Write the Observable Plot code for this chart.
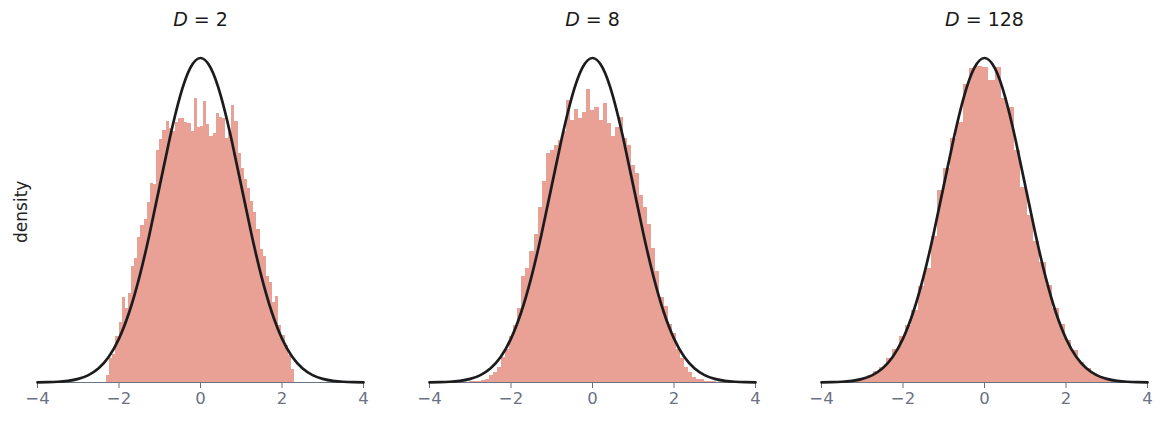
<!DOCTYPE html>
<html>
<head>
<meta charset="utf-8">
<script src="https://cdn.jsdelivr.net/npm/d3@7"></script>
<script src="https://cdn.jsdelivr.net/npm/@observablehq/plot@0.6"></script>
<style>
  html, body { margin: 0; padding: 0; background: #fff; }
  svg { display: block; }
</style>
</head>
<body>
<div id="chart"></div>
<script>
// ---- data ----
const panels = ["2", "8", "128"];
const xTicks = [-4, -2, 0, 2, 4];

// D = 2 histogram (density per bin)
const d2Start = -2.307;
const d2Width = 0.0769;
const d2Density = [
  0.009, 0.030, 0.034, 0.057, 0.074, 0.104, 0.091, 0.109, 0.142, 0.152,
  0.178, 0.193, 0.200, 0.221, 0.245, 0.243, 0.285, 0.299, 0.310, 0.321,
  0.312, 0.309, 0.320, 0.325, 0.324, 0.320, 0.318, 0.309, 0.349, 0.314,
  0.315, 0.345, 0.317, 0.302, 0.306, 0.331, 0.326, 0.325, 0.300, 0.307,
  0.341, 0.321, 0.282, 0.263, 0.250, 0.239, 0.222, 0.209, 0.188, 0.164,
  0.155, 0.130, 0.123, 0.098, 0.106, 0.070, 0.058, 0.046, 0.033, 0.016
];

// D = 8 histogram
const d8Start = -3.03;
const d8Width = 0.0997;
const d8Density = [
  0.001, 0.001, 0.0016, 0.003, 0.004, 0.008, 0.012, 0.019, 0.031, 0.041,
  0.056, 0.070, 0.091, 0.130, 0.140, 0.161, 0.182, 0.215, 0.247, 0.282,
  0.285, 0.291, 0.298, 0.309, 0.347, 0.322, 0.336, 0.325, 0.332, 0.360,
  0.334, 0.338, 0.322, 0.343, 0.318, 0.302, 0.313, 0.326, 0.300, 0.291,
  0.267, 0.257, 0.230, 0.215, 0.194, 0.165, 0.137, 0.105, 0.093, 0.071,
  0.060, 0.041, 0.029, 0.018, 0.012, 0.0065, 0.0033, 0.0033, 0.0016, 0.0016,
  0.0009, 0.0006
];

// D = 128 histogram
const d128Start = -3.35;
const d128Width = 0.157;
const d128Density = [
  0.002, 0.003, 0.005, 0.008, 0.013, 0.019, 0.030, 0.040, 0.056, 0.070,
  0.088, 0.118, 0.140, 0.180, 0.236, 0.263, 0.300, 0.320, 0.366, 0.386,
  0.388, 0.387, 0.371, 0.387, 0.349, 0.338, 0.285, 0.240, 0.205, 0.173,
  0.148, 0.119, 0.091, 0.071, 0.052, 0.039, 0.025, 0.017, 0.011, 0.007,
  0.0045, 0.003, 0.0015, 0.001
];

// standard normal reference curve (same in every panel)
const curveX = [-4, -3.75, -3.5, -3.25, -3, -2.75, -2.5, -2.25, -2, -1.75, -1.5, -1.25, -1, -0.75, -0.5, -0.25,
                0, 0.25, 0.5, 0.75, 1, 1.25, 1.5, 1.75, 2, 2.25, 2.5, 2.75, 3, 3.25, 3.5, 3.75, 4];
const curveY = [0.0001, 0.0004, 0.0009, 0.0020, 0.0044, 0.0091, 0.0175, 0.0317, 0.0540, 0.0863, 0.1295, 0.1826, 0.2420, 0.3011, 0.3521, 0.3867,
                0.3989, 0.3867, 0.3521, 0.3011, 0.2420, 0.1826, 0.1295, 0.0863, 0.0540, 0.0317, 0.0175, 0.0091, 0.0044, 0.0020, 0.0009, 0.0004, 0.0001];

// ---- tables built from the arrays ----
const hists = [
  {D: "2", start: d2Start, width: d2Width, values: d2Density},
  {D: "8", start: d8Start, width: d8Width, values: d8Density},
  {D: "128", start: d128Start, width: d128Width, values: d128Density}
];
const bars = hists.flatMap(h => h.values.map((v, i) => ({
  D: h.D, x1: h.start + i * h.width, x2: h.start + (i + 1) * h.width, density: v
})));
const curve = panels.flatMap(D => curveX.map((x, i) => ({D, x, y: curveY[i]})));
const titles = panels.map(D => ({D, text: `D = ${D}`}));
const ylabel = [{D: panels[0], text: "density"}];

const axisGray = "#6b7283";
const barColor = "#e9a196";

const chart = Plot.plot({
  width: 1163,
  height: 424,
  marginLeft: 37,
  marginRight: 16,
  marginTop: 56.6,
  marginBottom: 42,
  style: {fontFamily: "'DejaVu Sans', sans-serif", fontSize: "15px", background: "#fff"},
  fx: {domain: panels, axis: null, paddingInner: 66 / 392, paddingOuter: 0},
  x: {domain: [-4, 4]},
  y: {domain: [0, 0.4], axis: null},
  marks: [
    Plot.rectY(bars, {fx: "D", x1: "x1", x2: "x2", y: "density", fill: barColor, inset: 0, shapeRendering: "crispEdges"}),
    Plot.ruleY([0], {stroke: axisGray, strokeWidth: 1.2}),
    Plot.axisX(xTicks, {color: axisGray, tickSize: 6, tickPadding: 4, fontSize: 16.5, label: null}),
    Plot.line(curve, {fx: "D", x: "x", y: "y", stroke: "#1c1c1e", strokeWidth: 2.7, curve: "natural"}),
    Plot.text(titles, {fx: "D", text: "text", frameAnchor: "top", lineAnchor: "middle", dy: -37, fontSize: 19, fill: "#1a1a1a"}),
    Plot.text(ylabel, {fx: "D", text: "text", frameAnchor: "left", rotate: -90, lineAnchor: "middle", textAnchor: "middle", dx: -16, dy: -8, fontSize: 17, fill: "#222"})
  ]
});

// italic D in the panel titles (math style)
chart.querySelectorAll("text").forEach(t => {
  const s = t.textContent;
  if (s.startsWith("D = ")) {
    while (t.firstChild) t.removeChild(t.firstChild);
    const ns = "http://www.w3.org/2000/svg";
    const a = document.createElementNS(ns, "tspan");
    a.setAttribute("font-style", "italic");
    a.textContent = "D";
    const b = document.createElementNS(ns, "tspan");
    b.textContent = s.slice(1);
    t.appendChild(a);
    t.appendChild(b);
  }
});

document.getElementById("chart").appendChild(chart);
</script>
</body>
</html>
